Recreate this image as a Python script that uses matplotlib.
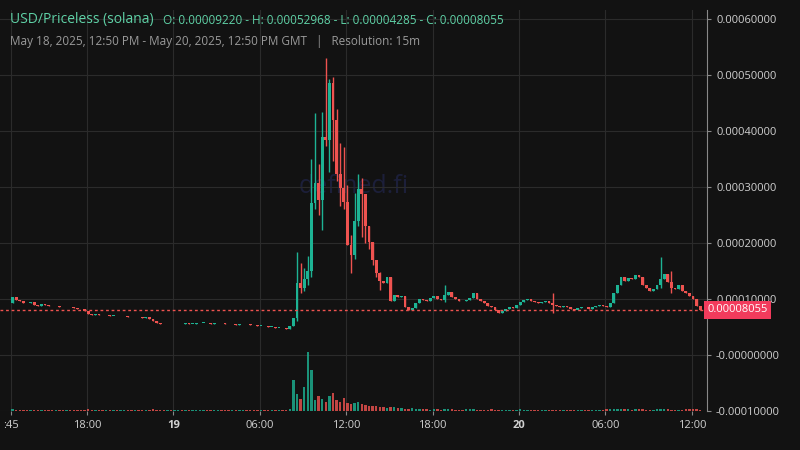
import matplotlib
matplotlib.use("Agg")
import matplotlib.pyplot as plt
from matplotlib.patches import Rectangle
import numpy as np

plt.rcParams["font.family"] = "Open Sans"

first_open = 92.2  # in 1e-6 units
closes = [103,98,96,93,92,94,90,88,91,89,88,87,88,86,85,86,85,84,83,82,78,
          74,72,73,72,71,71,70,70,69,69,70,68,67,68,67,66,67,65,60,57,56,55,56,55,
          55,56,55,57,56,56,57,58,58,57,56,57,58,57,56,55,56,54,55,56,55,54,53,52,
          52,51,50,50,49,49,48,47,52,
          66,128,120,135,150,271,307,277,389,383,486,420,323,299,273,196,179,240,296,288,
          230,201,170,147,132,129,139,97,108,104,106,86,80,84,
          92,100,98,96,102,105,100,98,108,112,104,100,97,96,99,102,110,100,96,92,88,85,80,75,78,82,86,84,90,
          95,98,100,97,95,92,94,96,92,90,88,86,88,85,82,80,84,86,85,82,86,88,90,87,
          86,92,110,125,140,132,138,135,142,140,125,120,115,118,125,135,145,130,120,118,125,115,110,105,100,88,80.55]
closes = closes[:192]
wick_idx  = [79,80,81,82,83,84,85,86,87,88,89,90,91,92,93,94,95,96,97,98,99,100,101,102,120,150,180,183]
wick_high = [184,164,155,177,350,432,341,434,530,493,496,439,379,371,304,214,289,323,316,245,209,173,164,148,125,110,175,150]
wick_low  = [60,110,115,125,140,260,250,223,373,327,346,311,266,260,240,146,171,230,211,200,190,160,140,116,95,75,120,110]
volume = [3,2,2,1,2,2,1,1,2,1,1,1,2,1,1,1,2,1,1,1,2,3,2,2,1,1,1,1,1,1,1,1,1,1,1,1,1,1,2,3,2,1,1,1,1,
          1,1,1,1,1,1,1,1,1,1,1,1,1,1,1,1,1,1,1,1,1,1,1,1,1,1,1,1,1,1,1,2,3,
          52,28,20,40,100,70,18,25,20,15,26,30,18,15,22,14,12,14,16,12,10,8,9,8,6,6,5,7,6,5,5,4,4,5,
          4,3,3,3,2,3,3,2,3,4,3,2,2,2,3,3,4,2,2,2,2,3,2,2,2,2,2,2,2,
          3,2,2,2,2,2,2,2,2,2,2,2,2,2,2,2,2,2,2,2,2,2,2,2,
          3,3,4,4,3,3,3,2,3,3,3,2,2,2,3,3,4,3,2,2,2,2,3,3,3,3,2]
volume = (volume + [2]*192)[:192]
tick_pos = [-0.33, 20.67, 44.67, 68.67, 92.67, 116.67, 140.67, 164.67, 188.67]
tick_lab = [":45", "18:00", "19", "06:00", "12:00", "18:00", "20", "06:00", "12:00"]
yticks = [0.0006, 0.0005, 0.0004, 0.0003, 0.0002, 0.0001, 0.0, -0.0001]

bg = "#121212"; green = "#1db394"; red = "#ef5350"; grid = "#2b2b2b"
n = len(closes)
opens = [first_open] + closes[:-1]
highs = [max(o, c) for o, c in zip(opens, closes)]
lows = [min(o, c) for o, c in zip(opens, closes)]
for i, h, l in zip(wick_idx, wick_high, wick_low):
    highs[i] = max(highs[i], h); lows[i] = min(lows[i], l)

fig = plt.figure(figsize=(8, 4.5), dpi=100, facecolor=bg)
ax = fig.add_axes([0, 39/450, 707/800, 401/450], facecolor=bg)
axv = ax.twinx()
axv.set_position(ax.get_position())
axv.set_ylim(0, 100*401/59)
axv.axis("off")
s = 1e-6
for i in range(n):
    o, c = opens[i]*s, closes[i]*s
    col = green if c >= o else red
    ax.vlines(i, lows[i]*s, highs[i]*s, color=col, lw=1, zorder=3)
    ax.add_patch(Rectangle((i-0.4, min(o, c)), 0.8, max(abs(c-o), 1.0e-6), color=col, zorder=4, lw=0))
    axv.bar(i, volume[i], width=0.7, color=col, alpha=0.8)

ax.set_xlim(-3.5, -3.5 + 707/3.6)
ax.set_ylim(-0.0001, 0.000616)
ax.yaxis.tick_right()
ax.set_yticks(yticks)
ax.set_yticklabels([("-0.00000000" if v == 0 else f"{v:.8f}") for v in yticks], color="#d0d0d0", fontsize=8)
ax.set_xticks(tick_pos)
ax.set_xticklabels(tick_lab, color="#d0d0d0", fontsize=8)
for lbl in ax.get_xticklabels():
    if lbl.get_text() in ("19", "20"):
        lbl.set_fontweight("bold")
ax.tick_params(length=3, color="#888888")
ax.grid(True, color=grid, lw=0.8)
for sp in ["top", "left", "bottom"]:
    ax.spines[sp].set_visible(False)
ax.spines["right"].set_color("#888888")

last = closes[-1]*s
ax.axhline(last, color=red, ls=(0, (2, 2)), lw=1, zorder=5)
ax.text(1.0, last, "0.00008055", transform=ax.get_yaxis_transform(), color="white", fontsize=8,
        va="center", ha="left", bbox=dict(boxstyle="square,pad=0.3", fc="#f23b5c", ec="none"), zorder=10)
ax.text(0.5, 0.56, "defined.fi", transform=ax.transAxes, color="#1c1f3a", fontsize=18, ha="center", va="center", zorder=1)

fig.text(10/800, 1-20/450, "USD/Priceless (solana)", color="#5fd1a6", fontsize=10, va="center")
fig.text(163/800, 1-20/450, "O: 0.00009220 - H: 0.00052968 - L: 0.00004285 - C: 0.00008055", color="#5fd1a6", fontsize=8.5, va="center")
fig.text(10/800, 1-41/450, "May 18, 2025, 12:50 PM - May 20, 2025, 12:50 PM GMT   |   Resolution: 15m", color="#9a9a9a", fontsize=8.5, va="center")
fig.savefig("out.png", dpi=100, facecolor=bg)
